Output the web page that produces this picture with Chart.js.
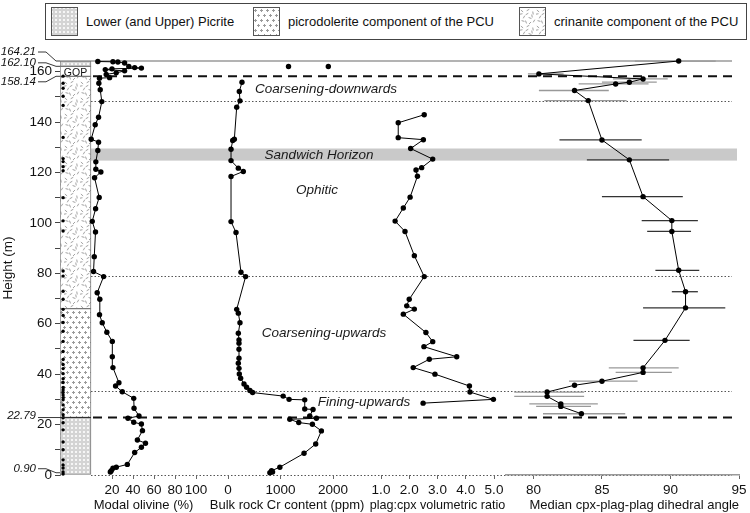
<!DOCTYPE html>
<html><head><meta charset="utf-8">
<script src="https://cdn.jsdelivr.net/npm/chart.js@4.4.1/dist/chart.umd.min.js"></script>
<style>
html,body{margin:0;padding:0;background:#fff;}
#wrap{position:relative;width:750px;height:513px;overflow:hidden;font-family:"Liberation Sans",Arial,Helvetica,sans-serif;}
#wrap canvas.layer{position:absolute;left:0;top:0;}
#legend{position:absolute;left:45px;top:3px;width:702px;height:37px;border:1px solid #444;box-sizing:border-box;background:#fff;}
.item{position:absolute;top:3px;height:29px;display:flex;align-items:center;}
.item canvas{border:1px solid #555;display:block;}
.item span{font-size:13px;color:#111;margin-left:8px;white-space:nowrap;}
</style></head>
<body>
<div id="wrap">
  <canvas id="c0" class="layer" width="750" height="513"></canvas>
  <canvas id="c1" class="layer" width="750" height="513"></canvas>
  <canvas id="c2" class="layer" width="750" height="513"></canvas>
  <canvas id="c3" class="layer" width="750" height="513"></canvas>
  <canvas id="c4" class="layer" width="750" height="513"></canvas>
  <div id="legend"></div>
</div>
<script>
// ---------------- DATA ----------------
const legendLabels = ['Lower (and Upper) Picrite', 'picrodolerite component of the PCU', 'crinanite component of the PCU'];
const unitNames  = ['Lower Picrite', 'picrodolerite', 'crinanite', 'GOP', 'Upper Picrite'];
const unitBottom = [0, 22.79, 66, 158.14, 162.10];
const unitTop    = [22.79, 66, 158.14, 162.10, 164.21];
const heightTicks = [0,10,20,30,40,50,60,70,80,90,100,110,120,130,140,150,160];
const heightMax = 164.21;
const boundaryLabels = [164.21, 162.10, 158.14, 22.79, 0.90];
const dashedLevels = [158.14, 22.79];
const dottedLevels = [148.4, 78.9, 33.4, 0];
const sandwichBand = [124.7, 129.5];
const noteText   = ['Coarsening-downwards', 'Sandwich Horizon', 'Ophitic', 'Coarsening-upwards', 'Fining-upwards'];
const noteHeight = [153.2, 126.9, 113.1, 56.3, 28.7];

const sampleHeights = [0.4,1.2,2.8,4,6,10,13.1,17.9,20.7,22.7,23.9,25.9,27.8,29.8,30.7,31.7,32.7,33.7,34.7,36.7,38.2,40.2,42.2,43.8,45.8,49,53,57,60.5,63.3,65.7,69.7,72.9,78.9,80.9,96.8,100.8,110,120.7,122.3,124.3,125.5,133.9,146.6,150.2,153.4,155.4,158.2];

const olivineHeight = [1.2,1.7,2.7,3.1,4.2,8.9,11.0,12.6,13.9,17.6,20.2,20.9,22.5,23.4,26.5,30.4,33.0,35.3,36.6,42.6,46.9,53.0,56.6,60.4,63.6,69.7,72.3,78.7,80.7,86.6,96.4,100.6,105.6,110.1,117.9,120.2,121.3,124.2,128.7,132.0,133.2,138.9,141.9,148.1,152.8,155.4,157.4,157.6,158.9,159.5,160.3,160.8,161.1,161.4,161.6,162.0,163.4,163.8,163.9,164.0];
const olivinePct    = [18.4,19.3,20.9,24.1,34.6,41.6,48.0,51.9,44.2,49.0,48.0,40.7,35.2,45.7,41.0,40.7,29.8,23.4,26.6,20.9,20.3,20.3,15.1,10.7,8.1,8.4,5.9,12.0,2.4,3.1,4.3,1.2,4.4,7.8,3.4,9.4,4.6,4.6,6.5,7.2,0.2,4.0,7.2,10.3,8.8,7.5,8.1,17.7,14.5,24.0,32.0,13.6,20.0,48.0,41.6,36.0,32.0,25.6,20.9,6.5];
const olivineTicks  = [20,40,60,80,100];

const crHeight = [0.9,1.2,1.7,3.1,8.6,12.3,17.5,20.1,20.8,22.1,22.5,23.4,26.0,26.2,29.8,30.0,31.3,32.7,33.5,34.8,36.1,38.4,40.1,42.3,44.3,46.3,49.9,52.3,53.6,56.2,60.4,64.2,65.7,78.7,80.4,96.2,100.5,118.4,120.4,121.7,124.7,129.2,132.7,133.2,145.9,148.4,152.1,155.8];
const crPpm    = [797,848,829,987,1448,1670,1778,1607,1347,1176,1683,1556,1619,1461,1461,1163,1050,468,417,354,304,240,215,209,196,209,209,209,209,196,228,196,165,335,247,152,57,57,291,196,57,57,89,120,165,228,215,266];
const crGopHeight = [162.0, 162.0];
const crGopPpm    = [1152, 1910];
const crTicks  = [0,1000,2000];

const plagHeight = [28.5,30.0,32.9,35.3,40.0,42.6,45.9,46.9,50.9,52.9,56.5,63.8,65.8,67.1,69.7,78.7,87.0,96.6,100.7,105.9,110.2,118.5,121.0,121.9,125.3,129.5,133.0,133.8,139.7,142.9];
const plagRatio  = [2.49,4.98,4.15,4.13,2.91,2.14,2.71,3.68,2.52,2.83,2.59,1.79,2.18,1.91,2.00,2.53,2.18,1.85,1.50,1.79,2.03,2.29,2.24,2.44,2.83,2.05,2.50,1.61,1.61,2.53];
const plagTicks  = [1,2,3,4,5];

const angleHeight = [24.3,27.2,28.2,31.2,32.9,35.6,37.2,40.7,42.5,53.4,66.3,72.7,81.2,96.6,100.9,110.4,125.0,132.9,148.5,152.5,155.1,155.8,157.1,159.1,164.2];
const angleMedian = [83.5,82.0,82.0,81.0,81.0,83.0,85.0,88.0,88.0,89.6,91.1,91.1,90.6,90.1,90.1,88.0,87.0,85.0,84.0,83.0,86.0,87.0,88.0,80.4,90.6];
const angleLow    = [80.7,80.2,79.7,78.6,78.6,null,82.6,86.0,85.5,87.3,88.0,90.1,88.9,88.3,87.9,85.0,83.9,81.9,80.8,80.4,83.3,85.0,85.8,79.6,87.4];
const angleHigh   = [86.7,84.2,84.7,83.7,83.7,null,87.6,90.1,90.6,91.4,94.0,92.0,92.1,91.5,92.0,90.9,89.9,87.9,86.8,85.5,88.4,89.0,89.8,82.2,93.3];
const angleTicks  = [80,85,90,95];

// ---------------- STYLE / HELPERS ----------------
const FONT = '"Liberation Sans", Arial, Helvetica, sans-serif';
Chart.defaults.font.family = FONT;
Chart.defaults.color = '#111';

function makePattern(kind){
  const c = document.createElement('canvas');
  const g = c.getContext('2d');
  if (kind === 'picrite') {
    c.width = 4; c.height = 4;
    g.fillStyle = '#f6f6f6'; g.fillRect(0,0,4,4);
    g.strokeStyle = '#a8a8a8'; g.lineWidth = 0.7;
    g.beginPath(); g.arc(2,2,1.3,0,Math.PI*2); g.stroke();
  } else if (kind === 'picrodolerite') {
    c.width = 6; c.height = 10;
    g.fillStyle = '#fff'; g.fillRect(0,0,6,10);
    g.strokeStyle = '#9a9a9a'; g.lineWidth = 1;
    [[1.5,2.5],[4.5,7.5]].forEach(([px,py])=>{
      g.beginPath(); g.moveTo(px-1.5,py); g.lineTo(px+1.5,py); g.moveTo(px,py-1.5); g.lineTo(px,py+1.5); g.stroke();
    });
  } else if (kind === 'crinanite') {
    c.width = 16; c.height = 16;
    g.fillStyle = '#fff'; g.fillRect(0,0,16,16);
    g.strokeStyle = '#8a8a8a'; g.lineWidth = 0.8;
    const strokes = [[2,3,40],[8,2,-30],[13,5,80],[4,9,120],[10,10,20],[14,13,-60],[6,14,70],[1,6,-10],[7,6,150],[12,8,-100],[3,13,15],[10,15,-45]];
    strokes.forEach(([sx,sy,a])=>{
      const r = a*Math.PI/180, dx = Math.cos(r)*1.5, dy = Math.sin(r)*1.5;
      g.beginPath(); g.moveTo(sx-dx,sy-dy); g.lineTo(sx+dx,sy+dy); g.stroke();
    });
  } else {
    c.width = 2; c.height = 2; g.fillStyle = '#fff'; g.fillRect(0,0,2,2);
  }
  return g.createPattern(c,'repeat');
}
const unitFill = {
  'Lower Picrite': makePattern('picrite'),
  'Upper Picrite': makePattern('picrite'),
  'picrodolerite': makePattern('picrodolerite'),
  'crinanite': makePattern('crinanite'),
  'GOP': '#ffffff'
};
const legendKinds = ['picrite','picrodolerite','crinanite'];
const legendLeft = [5, 207, 473];

// legend (HTML)
const legendEl = document.getElementById('legend');
legendLabels.forEach((txt,i)=>{
  const it = document.createElement('div'); it.className='item'; it.style.left = legendLeft[i]+'px';
  const sw = document.createElement('canvas'); sw.width=25; sw.height=27;
  const g = sw.getContext('2d'); g.fillStyle = makePattern(legendKinds[i]); g.fillRect(0,0,25,27);
  const sp = document.createElement('span'); sp.textContent = txt;
  it.appendChild(sw); it.appendChild(sp); legendEl.appendChild(it);
});

// ---------------- COLUMN + REFERENCE LINES ----------------
const LINE_L = 91, LINE_R = 732;
const refPlugin = {
  id: 'refPlugin',
  beforeDatasetsDraw(chart){
    const {ctx, scales:{y}} = chart;
    ctx.save();
    const y1 = y.getPixelForValue(sandwichBand[1]), y0 = y.getPixelForValue(sandwichBand[0]);
    ctx.fillStyle = '#c9c9c9';
    ctx.fillRect(LINE_L, y1, 737-LINE_L, y0-y1);
    ctx.strokeStyle = '#9a9a9a'; ctx.lineWidth = 1.5;
    let py = y.getPixelForValue(heightMax);
    ctx.beginPath(); ctx.moveTo(60, py); ctx.lineTo(LINE_R, py); ctx.stroke();
    ctx.strokeStyle = '#555'; ctx.lineWidth = 1; ctx.setLineDash([1.5,2]);
    dottedLevels.forEach(h=>{
      const p = Math.round(y.getPixelForValue(h))+0.5;
      ctx.beginPath(); ctx.moveTo(LINE_L, p); ctx.lineTo(LINE_R, p); ctx.stroke();
    });
    ctx.strokeStyle = '#111'; ctx.lineWidth = 2; ctx.setLineDash([9,6]);
    dashedLevels.forEach(h=>{
      const p = y.getPixelForValue(h);
      ctx.beginPath(); ctx.moveTo(LINE_L+2, p); ctx.lineTo(LINE_R, p); ctx.stroke();
    });
    ctx.restore();
  },
  afterDatasetsDraw(chart){
    const {ctx, scales:{y}} = chart;
    ctx.save();
    ctx.fillStyle = '#111'; ctx.font = '10.5px '+FONT; ctx.textAlign='center'; ctx.textBaseline='middle';
    ctx.fillText('GOP', 75.5, y.getPixelForValue((unitBottom[3]+unitTop[3])/2)+1.5);
    const dy = [-9, -3.5, 5.5, -1.5, -4];
    ctx.font = 'italic 11.5px '+FONT; ctx.textAlign='right';
    ctx.strokeStyle = '#222'; ctx.lineWidth = 0.9;
    boundaryLabels.forEach((h,i)=>{
      const ly = y.getPixelForValue(h), ty = ly + dy[i];
      ctx.fillText(h.toFixed(2), 36, ty);
      ctx.beginPath();
      if (i === 3) { ctx.moveTo(38, ly); ctx.lineTo(91, ly); }
      else { ctx.moveTo(38, ty); ctx.lineTo(46, ty); ctx.lineTo(56, ly); ctx.lineTo(60, ly); }
      ctx.stroke();
    });
    const noteX = [326, 319, 317, 324, 364];
    ctx.font = 'italic 13.5px '+FONT; ctx.textAlign='center'; ctx.fillStyle='#1a1a1a';
    noteText.forEach((t,i)=>{ ctx.fillText(t, noteX[i], y.getPixelForValue(noteHeight[i])); });
    ctx.restore();
  }
};

new Chart(document.getElementById('c0'), {
  type: 'bar',
  data: { datasets: [
    ...unitNames.map((n,i)=>({
      label: n, data: [{x: 0.5, y: [unitBottom[i], unitTop[i]]}],
      backgroundColor: unitFill[n], borderColor: '#777', borderWidth: 1, borderSkipped: false,
      barThickness: 31, grouped: false, order: 1
    })),
    { type: 'scatter', label: 'samples', data: sampleHeights.map(h=>({x: 0.1, y: h})),
      pointRadius: 1.7, pointBackgroundColor: '#000', pointBorderWidth: 0, clip: false, order: -1 }
  ]},
  options: {
    responsive: false, animation: false, devicePixelRatio: 1,
    layout: { padding: { top: 61, left: 0, right: 9, bottom: 38 } },
    plugins: { legend: { display: false }, tooltip: { enabled: false } },
    scales: {
      x: { type: 'linear', min: 0, max: 22, display: false, offset: false, grid: { offset: false } },
      y: { type: 'linear', min: 0, max: heightMax,
        afterFit: s => { s.width = 60; },
        afterBuildTicks: s => { s.ticks = heightTicks.map(v => ({value: v})); },
        ticks: { autoSkip: false, callback: v => (v % 20 === 0 ? String(v) : ''), font: {size: 13.5}, color: '#111', padding: 3 },
        grid: { drawOnChartArea: false, tickLength: 5, color: '#444' },
        border: { display: true, color: '#777' },
        title: { display: true, text: 'Height (m)', font: {size: 13.5}, color: '#111', padding: {top: 0, bottom: 0} }
      }
    }
  },
  plugins: [refPlugin]
});

// ---------------- PANELS ----------------
function lineSet(xs, ys, showLine){
  return { data: xs.map((v,i)=>({x: v, y: ys[i]})), showLine: showLine, borderColor: '#000', borderWidth: 1,
           pointRadius: 2.7, pointBackgroundColor: '#000', pointBorderWidth: 0, clip: false };
}
function panel(id, left, right, xMin, xMax, xTicks, title, datasets, extra){
  extra = extra || {};
  return new Chart(document.getElementById(id), {
    type: 'scatter',
    data: { datasets },
    options: {
      responsive: false, animation: false, devicePixelRatio: 1,
      layout: { padding: { top: 61, left: left, right: 750 - right, bottom: 0 } },
      plugins: { legend: { display: false }, tooltip: { enabled: false } },
      scales: {
        x: { type: 'linear', min: xMin, max: xMax,
          afterFit: s => { s.height = 38; },
          afterBuildTicks: s => { s.ticks = xTicks.map(v => ({value: v})); },
          ticks: { autoSkip: false, maxRotation: 0, font: {size: 13.5}, color: '#111', padding: 3,
                   callback: extra.fmt || (v => String(v)) },
          grid: { drawOnChartArea: false, tickLength: 4, color: '#666' },
          border: { display: !!extra.border, color: '#9a9a9a', width: 1.5 },
          title: { display: true, text: title, font: {size: 13}, color: '#111', padding: {top: 0, bottom: 0}, align: extra.align || 'center' }
        },
        y: { type: 'linear', min: 0, max: heightMax, display: false }
      }
    },
    plugins: extra.plugins || []
  });
}

panel('c1', 91, 196, 0, 100, olivineTicks, 'Modal olivine (%)', [lineSet(olivinePct, olivineHeight, true)]);

panel('c2', 204.4, 369.8, -450, 2700, crTicks, 'Bulk rock Cr content (ppm)',
  [lineSet(crPpm, crHeight, true), lineSet(crGopPpm, crGopHeight, false)]);

panel('c3', 369.7, 505.3, 0.6, 5.4, plagTicks, 'plag:cpx volumetric ratio', [lineSet(plagRatio, plagHeight, true)],
  { fmt: v => Number(v).toFixed(1) });

const errorBars = {
  id: 'errorBars',
  beforeDatasetsDraw(chart){
    const {ctx, scales:{x, y}} = chart;
    ctx.save(); ctx.lineWidth = 1.3;
    angleHeight.forEach((h,i)=>{
      if (angleLow[i] == null) return;
      const py = y.getPixelForValue(h);
      ctx.strokeStyle = (h > 45 && h < 140) ? '#333' : '#999';
      ctx.beginPath(); ctx.moveTo(x.getPixelForValue(angleLow[i]), py); ctx.lineTo(x.getPixelForValue(angleHigh[i]), py); ctx.stroke();
    });
    ctx.restore();
  }
};
panel('c4', 506, 739, 78.0, 95, angleTicks, 'Median cpx-plag-plag dihedral angle', [lineSet(angleMedian, angleHeight, true)],
  { border: true, align: 'end', plugins: [errorBars] });
</script>
</body></html>
